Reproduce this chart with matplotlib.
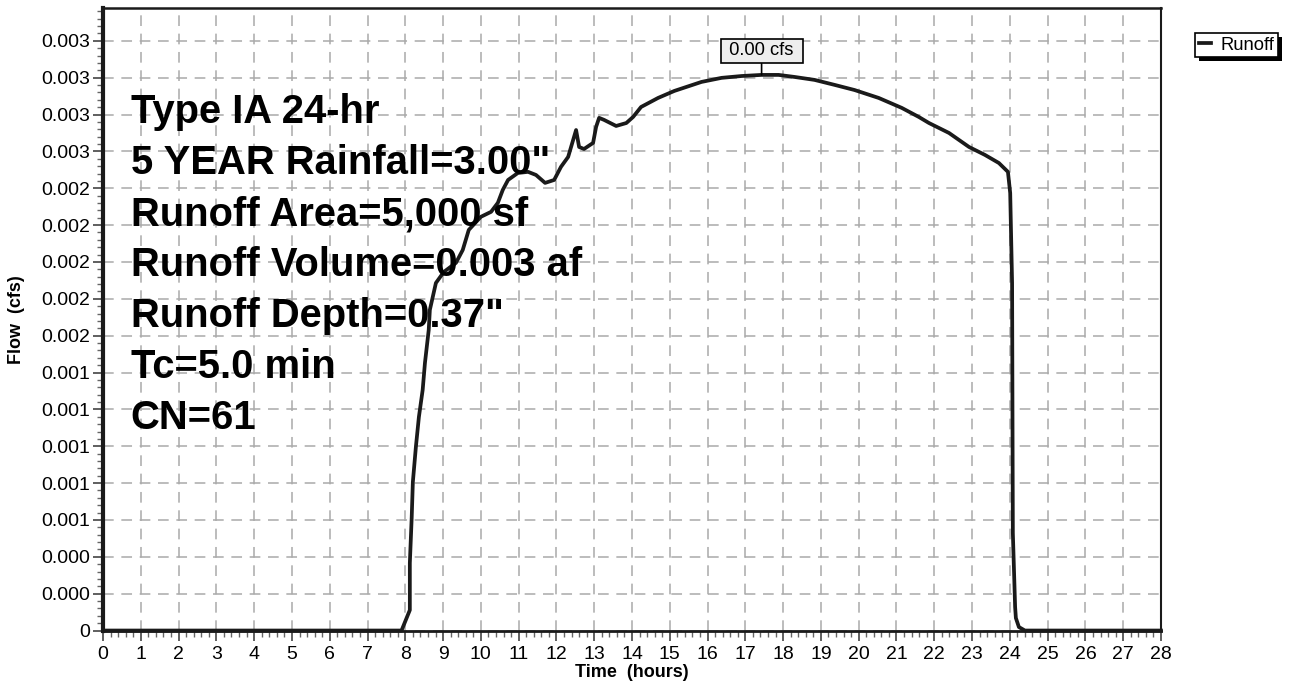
import numpy as np
import matplotlib
matplotlib.use("Agg")
import matplotlib.pyplot as plt
from matplotlib.ticker import MultipleLocator, FuncFormatter
from matplotlib.patches import Rectangle

plt.rcParams['font.family'] = ['Liberation Sans', 'DejaVu Sans']

# hydrograph (hours, cfs)
time_hr = [0, 7.90, 8.12, 8.12, 8.17, 8.20, 8.28, 8.36, 8.46, 8.52, 8.62, 8.65, 8.81,
           9.02, 9.34, 9.52, 9.68, 10.00, 10.27, 10.45, 10.58, 10.72, 10.98, 11.25,
           11.46, 11.70, 11.94, 12.12, 12.31, 12.52, 12.60, 12.73, 12.97, 13.05, 13.13,
           13.26, 13.58, 13.85, 14.03, 14.24, 14.69, 15.12, 15.84, 16.37, 16.90, 17.43,
           17.88, 18.30, 18.83, 19.36, 19.89, 20.53, 21.14, 21.59, 21.86, 22.39, 22.92,
           23.34, 23.71, 23.95, 24.01, 24.06, 24.08, 24.14, 24.16, 24.24, 24.40, 28]
flow_cfs = [0, 0, 0.000111, 0.000366, 0.000616, 0.000806, 0.000996, 0.001159, 0.001306,
            0.001452, 0.001631, 0.001740, 0.001886, 0.001946, 0.001995, 0.002065,
            0.002174, 0.002245, 0.002272, 0.002321, 0.002391, 0.002445, 0.002483,
            0.002489, 0.002472, 0.002429, 0.002445, 0.002516, 0.002570, 0.002716,
            0.002624, 0.002613, 0.002646, 0.002733, 0.002782, 0.002771, 0.002738,
            0.002754, 0.002787, 0.002841, 0.002890, 0.002928, 0.002977, 0.002999,
            0.003009, 0.003015, 0.003015, 0.003004, 0.002988, 0.002961, 0.002933,
            0.002890, 0.002836, 0.002787, 0.002754, 0.002700, 0.002624, 0.002581,
            0.002537, 0.002489, 0.002374, 0.001886, 0.000529, 0.000128, 0.000068,
            0.000019, 0, 0]

info_lines = ['Type IA 24-hr', '5 YEAR Rainfall=3.00"', 'Runoff Area=5,000 sf',
              'Runoff Volume=0.003 af', 'Runoff Depth=0.37"', 'Tc=5.0 min', 'CN=61']
peak_label = '0.00 cfs'
series_name = 'Runoff'

fig = plt.figure(figsize=(12.96, 6.85), dpi=100)
ax = fig.add_axes([0.0795, 0.0795, 0.8163, 0.9088])

ax.plot(time_hr, flow_cfs, color='#1a1a1a', lw=2.7, label=series_name, zorder=5,
        solid_joinstyle='round', clip_on=False)

ax.set_xlim(0, 28)
ax.set_ylim(0, 0.003378)
ax.xaxis.set_major_locator(MultipleLocator(1))
ax.xaxis.set_minor_locator(MultipleLocator(0.2))
ax.yaxis.set_major_locator(MultipleLocator(0.0002))
ax.yaxis.set_minor_locator(MultipleLocator(0.00004))
ax.yaxis.set_major_formatter(FuncFormatter(lambda v, p: '0' if abs(v) < 1e-12 else '%.3f' % v))

ax.tick_params(which='major', direction='out', length=7, width=1.2, labelsize=14, pad=2,
               color='#444444')
ax.tick_params(which='minor', direction='out', length=4, width=1.0, color='#666666')
ax.tick_params(axis='x', which='major', pad=4)

ax.grid(True, which='major', color='#aaaaaa', lw=1.1, linestyle=(0, (7, 5)))
ax.set_axisbelow(True)

ax.spines['left'].set_linewidth(3)
ax.spines['bottom'].set_linewidth(2)
ax.spines['top'].set_linewidth(1.8)
ax.spines['right'].set_linewidth(1.5)
for s in ax.spines.values():
    s.set_color('#1a1a1a')

ax.set_xlabel('Time  (hours)', fontsize=13, fontweight='bold', labelpad=1)
ax.set_ylabel('Flow  (cfs)', fontsize=13, fontweight='bold')
ax.yaxis.set_label_coords(-0.074, 0.5)

# storm info block
y0 = (630.5 - 123) / 622.5
dy = 51 / 622.5
for i, line in enumerate(info_lines):
    ax.text(0.026, y0 - i * dy, line, transform=ax.transAxes, fontsize=28.8,
            fontweight='bold', va='baseline', ha='left', zorder=6)

# peak label
ipk = int(np.argmax(flow_cfs))
ax.annotate(' ' + peak_label + ' ', xy=(time_hr[ipk], flow_cfs[ipk]),
            xytext=(0, 24), textcoords='offset pixels', ha='center', va='center',
            fontsize=13.2, zorder=7,
            bbox=dict(boxstyle='square,pad=0.2', fc='#eeeeee', ec='black', lw=1.2),
            arrowprops=dict(arrowstyle='-', color='black', lw=1.2, shrinkA=0, shrinkB=0))

leg = fig.legend(loc='upper left', bbox_to_anchor=(0.922, 0.952), fontsize=13.2,
                 handlelength=0.7, handletextpad=0.5, borderpad=0.2, borderaxespad=0,
                 fancybox=False, framealpha=1, edgecolor='black')
leg.get_frame().set_linewidth(1.2)
leg.set_zorder(10)

# solid black drop shadow behind the legend box
fig.canvas.draw()
bb = leg.get_window_extent().transformed(fig.transFigure.inverted())
fig.add_artist(Rectangle((bb.x0 + 4 / 1296, bb.y0 - 4 / 685), bb.width, bb.height,
                         transform=fig.transFigure, fc='black', ec='none', zorder=9))

plt.savefig('out.png', dpi=100)
